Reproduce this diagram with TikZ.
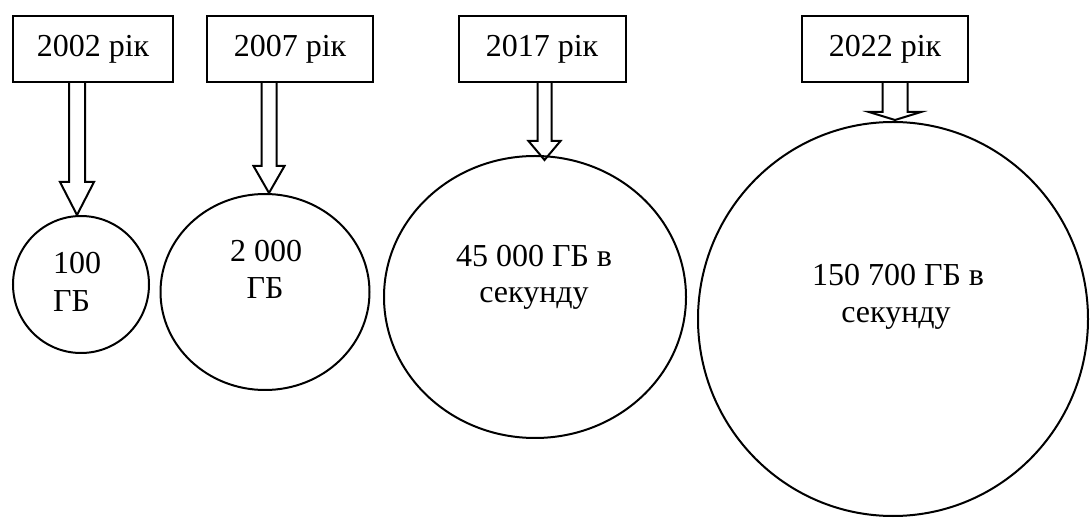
\documentclass[tikz,border=0pt]{standalone}
\usepackage{fontspec}
\setmainfont{Liberation Serif}
\usetikzlibrary{calc,shapes.geometric}

% hollow block arrow: #1 shaft start, #2 tip, #3 half shaft width,
% #4 half head width, #5 head length
\newcommand\blockarrow[5]{%
  \draw[arrowline] let \p1=(#1), \p2=(#2) in
    (\x2-#3pt,\y1) -- (\x2-#3pt,\y2+#5pt) -- (\x2-#4pt,\y2+#5pt) -- (\x2,\y2)
    -- (\x2+#4pt,\y2+#5pt) -- (\x2+#3pt,\y2+#5pt) -- (\x2+#3pt,\y1);}

\begin{document}
\begin{tikzpicture}[x=1pt,y=-1pt,
  txt/.style={font=\fontsize{32}{37}\selectfont, inner sep=0pt},
  yearbox/.style={draw, line width=2pt, minimum height=66pt, inner sep=0pt,
    font=\fontsize{32}{37}\selectfont},
  volume/.style={draw, ellipse, line width=2pt, inner sep=0pt},
  arrowline/.style={line width=2pt, line join=miter}]
\useasboundingbox (0,0) rectangle (1090,518);

% year boxes
\node[yearbox, minimum width=160pt] (b1) at (93,49)  {2002 рік};
\node[yearbox, minimum width=166pt] (b2) at (290,49) {2007 рік};
\node[yearbox, minimum width=167pt] (b3) at (542,49) {2017 рік};
\node[yearbox, minimum width=166pt] (b4) at (885,49) {2022 рік};

% volume circles
\node[volume, minimum width=136pt, minimum height=137pt] (c1) at (81,284.5) {};
\node[volume, minimum width=209pt, minimum height=196pt] (c2) at (265,292) {};
\node[volume, minimum width=302pt, minimum height=282pt] (c3) at (535,297) {};
\node[volume, minimum width=390pt, minimum height=394pt] (c4) at (893,319) {};

% volume labels
\node[txt, anchor=base west] (t1a) at (53,274) {100};
\node[txt, anchor=base west] (t1b) at (53,312) {ГБ};
\node[txt, anchor=base] (t2a) at (266,262) {2 000};
\node[txt, anchor=base] (t2b) at (265,299) {ГБ};
\node[txt, anchor=base] (t3a) at (534,267) {45 000 ГБ в};
\node[txt, anchor=base] (t3b) at (534,303) {секунду};
\node[txt, anchor=base] (t4a) at (898,286) {150 700 ГБ в};
\node[txt, anchor=base] (t4b) at (896,323) {секунду};

% arrow anchors: shaft start under each box, tip on each circle
\coordinate (s1) at (b1.south -| 77,0);
\coordinate (e1) at (77,215);
\coordinate (s2) at (b2.south -| 269,0);
\coordinate (e2) at (269,193);
\coordinate (s3) at (b3.south -| 544.5,0);
\coordinate (e3) at (544.5,160);
\coordinate (s4) at (b4.south -| 895,0);
\coordinate (e4) at (895,120);

\blockarrow{s1}{e1}{8}{17}{33}
\blockarrow{s2}{e2}{7.5}{15.5}{27}
\blockarrow{s3}{e3}{7}{16}{19}
\blockarrow{s4}{e4}{12.5}{26}{8}
\end{tikzpicture}
\end{document}
